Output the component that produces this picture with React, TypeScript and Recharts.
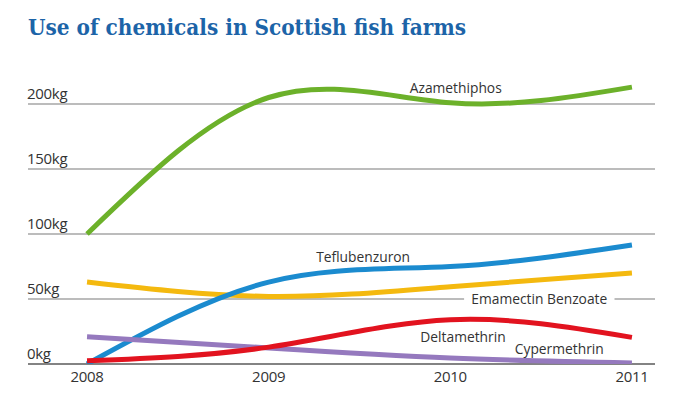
import React from "react";
import {
  LineChart,
  Line,
  XAxis,
  YAxis,
  CartesianGrid,
  ReferenceLine,
  ReferenceDot,
} from "recharts";

const years = [2008, 2009, 2010, 2011];
const azamethiphos = [100, 205, 201, 213];
const teflubenzuron = [0, 63, 75, 91.5];
const emamectin = [63, 52, 59.5, 70];
const deltamethrin = [2.5, 13, 34, 20.5];
const cypermethrin = [21, 12.3, 4.6, 0.8];
const yTicks = [0, 50, 100, 150, 200];

// label anchors in data units (year, kg)
const seriesLabels = [
  { name: "Azamethiphos", x: 2010.03, y: 212.5 },
  { name: "Teflubenzuron", x: 2009.52, y: 82.5 },
  { name: "Emamectin Benzoate", x: 2010.49, y: 50.5, knockout: true },
  { name: "Deltamethrin", x: 2010.07, y: 21.5 },
  { name: "Cypermethrin", x: 2010.6, y: 12 },
];

const data = years.map((year, i) => ({
  year,
  azamethiphos: azamethiphos[i],
  teflubenzuron: teflubenzuron[i],
  emamectin: emamectin[i],
  deltamethrin: deltamethrin[i],
  cypermethrin: cypermethrin[i],
}));

const series = [
  { key: "azamethiphos", color: "#6cb12a" },
  { key: "emamectin", color: "#f4b90f" },
  { key: "teflubenzuron", color: "#1b8bcf" },
  { key: "cypermethrin", color: "#9579be" },
  { key: "deltamethrin", color: "#e2131f" },
];

const FONT = "'Open Sans', 'Noto Sans', sans-serif";

const YTick = ({ y, payload }: any) => (
  <text
    x={27}
    y={y - 5}
    textAnchor="start"
    fontFamily={FONT}
    fontSize={15}
    letterSpacing={-0.3}
    fill="#333"
  >
    {payload.value}kg
  </text>
);

const XTick = ({ x, y, payload }: any) => (
  <text
    x={x}
    y={y + 10}
    textAnchor="middle"
    fontFamily={FONT}
    fontSize={15}
    letterSpacing={-0.3}
    fill="#333"
  >
    {payload.value}
  </text>
);

const makeLabel = (name: string, knockout?: boolean) => (props: any) => {
  const { cx, cy } = props;
  const w = name.length * 7.8 + 10;
  return (
    <g>
      {knockout && (
        <rect x={cx - w / 2} y={cy - 8} width={w} height={16} fill="#fff" />
      )}
      <text
        x={cx}
        y={cy}
        textAnchor="middle"
        dominantBaseline="central"
        fontFamily={FONT}
        fontSize={13.8}
        fill="#333"
      >
        {name}
      </text>
    </g>
  );
};

export default function App() {
  return (
    <div
      style={{
        position: "absolute",
        left: 0,
        top: 0,
        width: 689,
        height: 397,
        background: "#fff",
      }}
    >
      <svg
        width={689}
        height={50}
        style={{ position: "absolute", left: 0, top: 0 }}
      >
        <text
          x={28}
          y={35}
          fontFamily="'DejaVu Serif', serif"
          fontWeight="bold"
          fontSize={22}
          fill="#1c64a8"
          textLength={438}
          lengthAdjust="spacingAndGlyphs"
        >
          Use of chemicals in Scottish fish farms
        </text>
      </svg>
      <LineChart
        width={689}
        height={397}
        data={data}
        margin={{ top: 71.5, right: 34, bottom: 3, left: 0 }}
      >
        <CartesianGrid
          vertical={false}
          horizontalValues={yTicks}
          stroke="#a6a6a6"
          strokeWidth={1.3}
        />
        <XAxis
          dataKey="year"
          type="number"
          domain={[2007.675, 2011.127]}
          ticks={years}
          tick={<XTick />}
          height={30}
          axisLine={false}
          tickLine={false}
          allowDataOverflow
        />
        <YAxis
          domain={[0, 225]}
          ticks={yTicks}
          width={28}
          tick={<YTick />}
          axisLine={false}
          tickLine={false}
          allowDataOverflow
        />
        <ReferenceLine y={0} stroke="#707070" strokeWidth={1.5} />
        {series.map((s) => (
          <Line
            key={s.key}
            type="natural"
            dataKey={s.key}
            stroke={s.color}
            strokeWidth={5}
            dot={false}
            activeDot={false}
            isAnimationActive={false}
          />
        ))}
        {seriesLabels.map((l) => (
          <ReferenceDot
            key={l.name}
            x={l.x}
            y={l.y}
            r={0}
            shape={makeLabel(l.name, l.knockout)}
          />
        ))}
      </LineChart>
    </div>
  );
}
